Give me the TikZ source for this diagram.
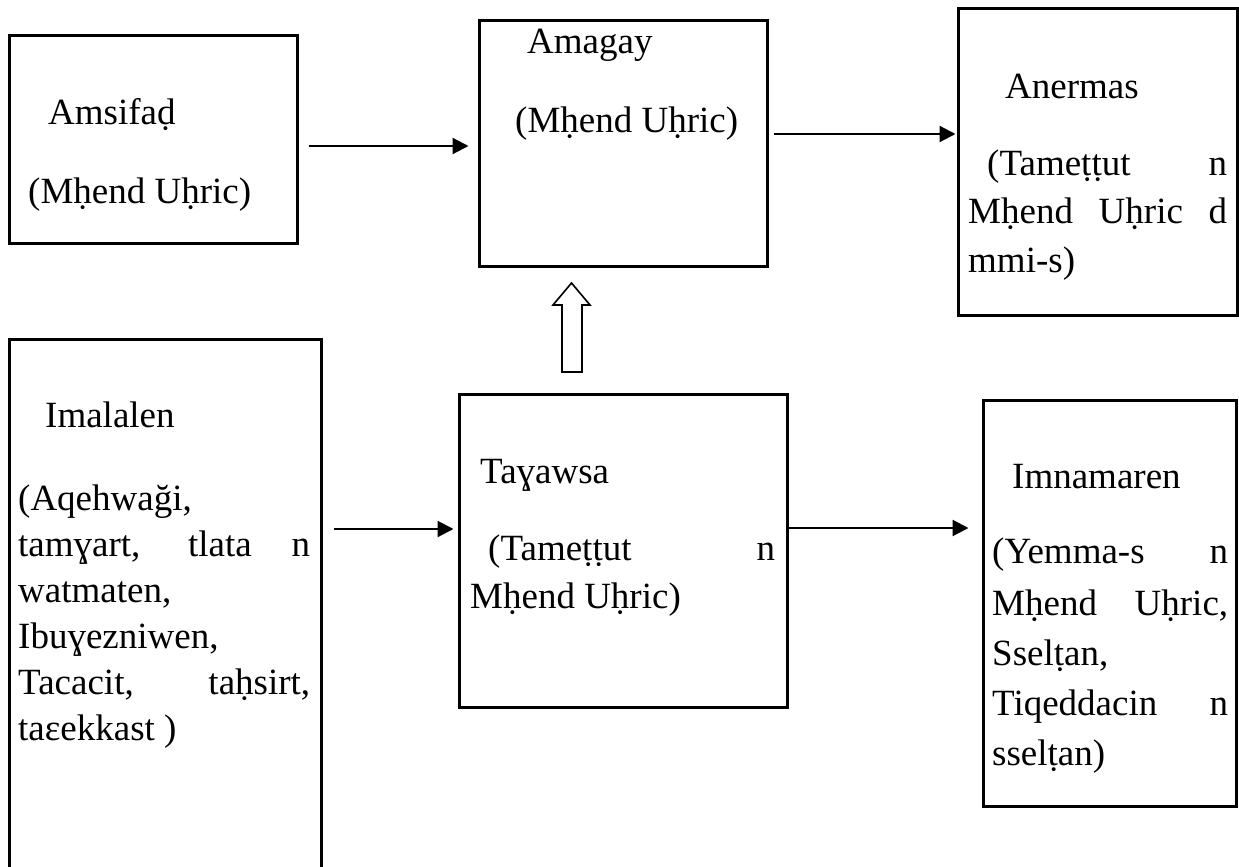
\documentclass[tikz,border=0pt]{standalone}
\usepackage{fontspec}
\setmainfont{Liberation Serif}
\usetikzlibrary{arrows.meta}

% a line of text spread to a given width (justified)
\newcommand{\spreadline}[2]{\makebox[#1][s]{#2}}

\tikzset{
  box/.style={draw, line width=3pt, inner sep=0pt},
  txt/.style={anchor=base west, inner sep=0pt, font=\fontsize{37}{44}\selectfont},
  link/.style={line width=2.2pt, -{Triangle[length=16pt,width=16pt]}},
  hollow/.style={draw, line width=1.6pt},
}

\begin{document}
\begin{tikzpicture}[x=1pt, y=-1pt]
\clip (0,0) rectangle (1239,867);

% boxes
\node[box, minimum width=288pt, minimum height=207pt] (amsifad)   at (153,139.5)  {};
\node[box, minimum width=288pt, minimum height=245pt] (amagay)    at (623,143.5)  {};
\node[box, minimum width=279pt, minimum height=306pt] (anermas)   at (1097.5,162) {};
\node[box, minimum width=312pt, minimum height=611pt] (imalalen)  at (165,644.5)  {};
\node[box, minimum width=328pt, minimum height=313pt] (tayawsa)   at (623,550.5)  {};
\node[box, minimum width=253pt, minimum height=406pt] (imnamaren) at (1109.5,603) {};

% Amsifaḍ
\node[txt] (t-amsifad)  at (48,124)  {Amsifaḍ};
\node[txt] (t-amsifad2) at (28,203)  {(Mḥend Uḥric)};

% Amagay
\node[txt] (t-amagay)  at (527,53)  {Amagay};
\node[txt] (t-amagay2) at (515,132) {(Mḥend Uḥric)};

% Anermas
\node[txt] (t-anermas)  at (1005,98)  {Anermas};
\node[txt] (t-anermas2) at (987,175)  {\spreadline{240pt}{(Tameṭṭut n}};
\node[txt] (t-anermas3) at (968,223)  {\spreadline{259pt}{Mḥend Uḥric d}};
\node[txt] (t-anermas4) at (968,272)  {mmi-s)};

% Imalalen
\node[txt] (t-imal)  at (45,427) {Imalalen};
\node[txt] (t-imal2) at (18,510) {(Aqehwaği,};
\node[txt] (t-imal3) at (18,556) {\spreadline{292pt}{tamɣart, tlata n}};
\node[txt] (t-imal4) at (18,602) {watmaten,};
\node[txt] (t-imal5) at (18,648) {Ibuɣezniwen,};
\node[txt] (t-imal6) at (18,694) {\spreadline{292pt}{Tacacit, taḥsirt,}};
\node[txt] (t-imal7) at (18,740) {taɛekkast )};

% Taɣawsa
\node[txt] (t-taya)  at (480,483) {Taɣawsa};
\node[txt] (t-taya2) at (488,560) {\spreadline{287pt}{(Tameṭṭut n}};
\node[txt] (t-taya3) at (470,608) {Mḥend Uḥric)};

% Imnamaren
\node[txt] (t-imna)  at (1012,488) {Imnamaren};
\node[txt] (t-imna2) at (992,563)  {\spreadline{236pt}{(Yemma-s n}};
\node[txt] (t-imna3) at (992,615)  {\spreadline{236pt}{Mḥend Uḥric,}};
\node[txt] (t-imna4) at (992,665)  {Sselṭan,};
\node[txt] (t-imna5) at (992,715)  {\spreadline{236pt}{Tiqeddacin n}};
\node[txt] (t-imna6) at (992,765)  {sselṭan)};

% connectors
\draw[link, shorten <=10pt, shorten >=9pt] (amsifad.east |- 0,146) -- (amagay.west |- 0,146);
\draw[link, shorten <=5pt, shorten >=1pt]  (amagay.east |- 0,134) -- (anermas.west |- 0,134);
\draw[link, shorten <=11pt, shorten >=4pt] (imalalen.east |- 0,529) -- (tayawsa.west |- 0,529);
\draw[link, shorten <=-2pt, shorten >=13pt] (tayawsa.east |- 0,528) -- (imnamaren.west |- 0,528);

% hollow block arrow pointing up towards Amagay
\path[hollow] (562,372) -- (562,305) -- (553,305) -- (571.5,283) -- (590,305)
  -- (582,305) -- (582,372) -- cycle;
\end{tikzpicture}
\end{document}
